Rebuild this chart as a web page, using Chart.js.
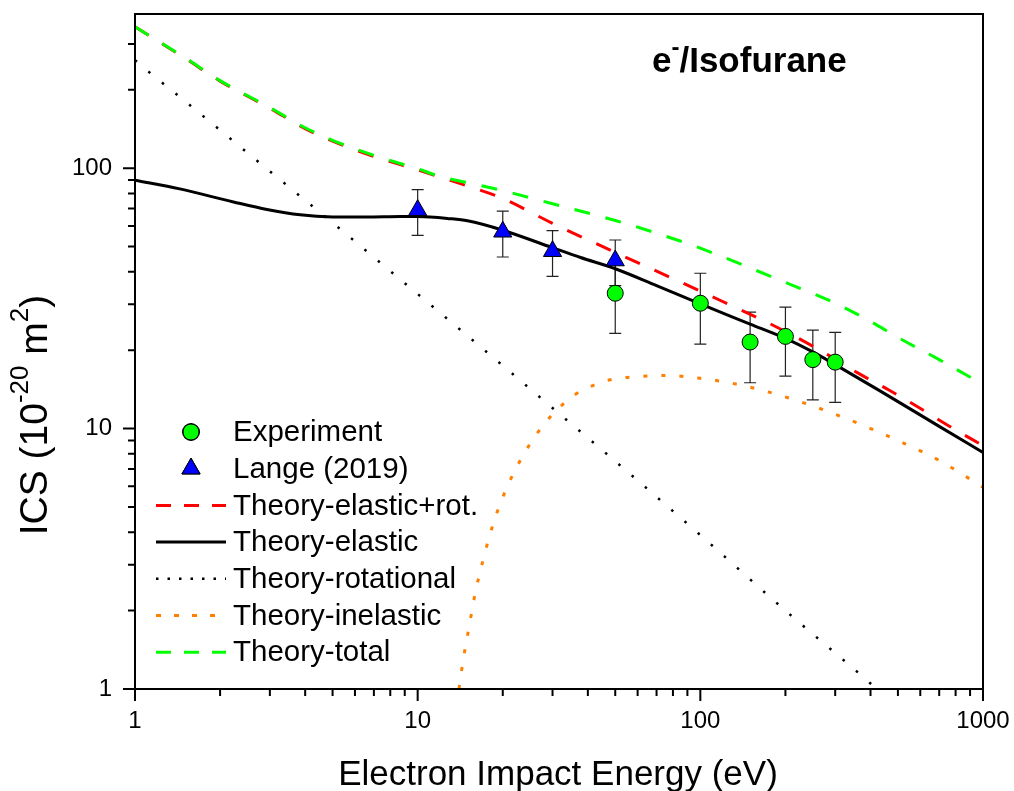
<!DOCTYPE html>
<html>
<head>
<meta charset="utf-8">
<script src="https://cdn.jsdelivr.net/npm/chart.js@4.4.0/dist/chart.umd.min.js"></script>
<style>
body { margin: 0; background: #fff; }
</style>
</head>
<body>
<canvas id="myChart" width="1014" height="791"></canvas>
<script>
var FONT = '"Liberation Sans", Arial, sans-serif';

// measured points
var expE = [50, 100, 150, 200, 250, 300];
var expICS = [33.1, 30.3, 21.5, 22.6, 18.4, 18.0];
var expErr = [9.9, 9.2, 6.5, 6.7, 5.5, 5.4];

var langeE = [10, 20, 30, 50];
var langeICS = [69, 57, 48, 44.2];
var langeErr = [13.8, 11.4, 9.6, 8.8];

// theory curves
var elRotE = [1, 1.5, 2, 3, 4, 5, 7, 10, 12, 15, 20, 30, 50, 100, 200, 285, 359, 463, 589, 750, 1000];
var elRot = [349, 265, 216, 170, 142, 127, 111, 98.5, 92.5, 85.5, 76.5, 61.4, 47.5, 33.7, 23.6, 19.1, 16.4, 14.1, 12.1, 10.3, 8.6];

var elasticE = [1, 1.44, 2.23, 2.93, 3.84, 5, 6.6, 8.7, 10, 13, 15, 20, 30, 37.7, 50, 70, 100, 150, 200, 250, 300, 435, 700, 1000];
var elastic = [90, 83.3, 74.2, 69.4, 66.2, 65.0, 64.9, 65.2, 65.2, 64.0, 62.8, 57.8, 49.5, 45.4, 41.1, 35.4, 30.1, 25.2, 22.2, 19.7, 17.6, 13.9, 10.2, 8.1];

var rotE = [1, 1.1, 1.54, 2.33, 3.56, 5.42, 8.26, 10.2, 19, 30, 49.4, 100, 200, 400, 600];
var rot = [260, 238, 177, 122, 83.5, 57.4, 39.1, 32.3, 18.3, 12.0, 7.58, 3.9, 2.0, 1.05, 0.7];

var inelE = [14, 14.5, 15, 15.5, 16, 17, 18, 19, 20, 22, 25, 28, 31, 36, 41.5, 48, 56, 75, 100, 135, 175, 235, 310, 400, 500, 700, 1000];
var inel = [1.0, 1.3, 1.6, 1.95, 2.35, 3.1, 3.9, 4.7, 5.45, 6.85, 8.75, 10.4, 11.75, 13.5, 14.6, 15.4, 15.75, 16.0, 15.6, 14.8, 13.8, 12.5, 11.2, 10.0, 9.0, 7.55, 5.95];

var totalE = [1, 1.5, 2, 3, 4, 5, 7, 10, 12, 15, 20, 30, 50, 70, 100, 200, 300, 400, 500, 700, 870, 1000];
var total = [349, 266, 217, 171, 143, 128, 112, 99.5, 93, 88, 82, 73, 63, 56.3, 49.3, 36.4, 30.3, 25.8, 22.4, 18.4, 16.1, 14.8];

var xTickLabels = ['1', '10', '100', '1000'];
var yTickLabels = ['1', '10', '100'];
var xMajor = [1, 10, 100, 1000];
var xMinor = [2, 3, 4, 5, 6, 7, 8, 9, 20, 30, 40, 50, 60, 70, 80, 90, 200, 300, 400, 500, 600, 700, 800, 900];
var yMajor = [1, 10, 100];
var yMinor = [2, 3, 4, 5, 6, 7, 8, 9, 20, 30, 40, 50, 60, 70, 80, 90, 200, 300];

function pts(xs, ys) {
    return xs.map(function (x, i) { return {x: x, y: ys[i]}; });
}

function isDecade(v) {
    var l = Math.log10(v);
    return Math.abs(l - Math.round(l)) < 1e-9;
}

// error bars under the markers
var errorBars = {
    id: 'errorBars',
    beforeDatasetsDraw: function (chart) {
        var ctx = chart.ctx, xs = chart.scales.x, ys = chart.scales.y;
        var sets = [[expE, expICS, expErr], [langeE, langeICS, langeErr]];
        ctx.save();
        ctx.strokeStyle = '#222';
        ctx.lineWidth = 1.2;
        sets.forEach(function (s) {
            s[0].forEach(function (e, i) {
                var px = xs.getPixelForValue(e);
                var top = ys.getPixelForValue(s[1][i] + s[2][i]);
                var bot = ys.getPixelForValue(s[1][i] - s[2][i]);
                ctx.beginPath();
                ctx.moveTo(px, top); ctx.lineTo(px, bot);
                ctx.moveTo(px - 6, top); ctx.lineTo(px + 6, top);
                ctx.moveTo(px - 6, bot); ctx.lineTo(px + 6, bot);
                ctx.stroke();
            });
        });
        ctx.restore();
    }
};

function drawSup(ctx, parts, x, y) {
    parts.forEach(function (p) {
        ctx.font = p[2] + ' ' + p[1] + 'px ' + FONT;
        ctx.fillText(p[0], x, y + p[3]);
        x += ctx.measureText(p[0]).width;
    });
}

function widthOf(ctx, parts) {
    var w = 0;
    parts.forEach(function (p) {
        ctx.font = p[2] + ' ' + p[1] + 'px ' + FONT;
        w += ctx.measureText(p[0]).width;
    });
    return w;
}

var decorations = {
    id: 'decorations',
    afterDraw: function (chart) {
        var ctx = chart.ctx, a = chart.chartArea, xs = chart.scales.x, ys = chart.scales.y;
        ctx.save();
        // frame
        ctx.strokeStyle = '#000';
        ctx.lineWidth = 2;
        ctx.strokeRect(a.left, a.top, a.right - a.left, a.bottom - a.top);
        // ticks
        ctx.beginPath();
        yMajor.forEach(function (v) { var p = ys.getPixelForValue(v); ctx.moveTo(a.left, p); ctx.lineTo(a.left - 12, p); });
        yMinor.forEach(function (v) { var p = ys.getPixelForValue(v); ctx.moveTo(a.left, p); ctx.lineTo(a.left - 7, p); });
        xMajor.forEach(function (v) { var p = xs.getPixelForValue(v); ctx.moveTo(p, a.bottom); ctx.lineTo(p, a.bottom + 12); });
        xMinor.forEach(function (v) { var p = xs.getPixelForValue(v); ctx.moveTo(p, a.bottom); ctx.lineTo(p, a.bottom + 7); });
        ctx.stroke();

        ctx.fillStyle = '#000';
        ctx.textBaseline = 'alphabetic';
        ctx.textAlign = 'left';

        // x title
        ctx.font = '35px ' + FONT;
        ctx.textAlign = 'center';
        ctx.fillText('Electron Impact Energy (eV)', 558, 785);
        ctx.textAlign = 'left';

        // y title
        var yParts = [['ICS (10', 39, '', 0], ['-20', 26, '', -19], [' m', 39, '', 0], ['2', 26, '', -19], [')', 39, '', 0]];
        ctx.save();
        ctx.translate(47, 415);
        ctx.rotate(-Math.PI / 2);
        drawSup(ctx, yParts, -widthOf(ctx, yParts) / 2, 0);
        ctx.restore();

        // panel title
        drawSup(ctx, [['e', 35, 'bold', 0], ['-', 24, 'bold', -17], ['/Isofurane', 35, 'bold', 0]], 652, 72);

        // legend
        var rows = [
            {label: 'Experiment', marker: 'circle', fill: '#00ff00'},
            {label: 'Lange (2019)', marker: 'triangle', fill: '#0000ff'},
            {label: 'Theory-elastic+rot.', color: '#ff0000', w: 3, dash: [15, 13]},
            {label: 'Theory-elastic', color: '#000', w: 3, dash: []},
            {label: 'Theory-rotational', color: '#000', w: 2.5, dash: [2.5, 9]},
            {label: 'Theory-inelastic', color: '#ff8000', w: 3, dash: [5, 13]},
            {label: 'Theory-total', color: '#00ff00', w: 3, dash: [15, 13]}
        ];
        rows.forEach(function (r, i) {
            var y = 432 + i * 36.7;
            if (r.marker) {
                Chart.helpers.drawPoint(ctx, {pointStyle: r.marker, radius: r.marker === 'circle' ? 8 : 10.5, borderWidth: 1}, 191, y);
                ctx.fillStyle = r.fill;
                ctx.strokeStyle = '#000';
                ctx.lineWidth = 1;
                ctx.fill();
                ctx.stroke();
            } else {
                ctx.beginPath();
                ctx.strokeStyle = r.color;
                ctx.lineWidth = r.w;
                ctx.setLineDash(r.dash);
                ctx.moveTo(156, y); ctx.lineTo(226, y);
                ctx.stroke();
                ctx.setLineDash([]);
            }
            ctx.fillStyle = '#000';
            ctx.font = '29.5px ' + FONT;
            ctx.textBaseline = 'middle';
            ctx.fillText(r.label, 233, y + 1);
            ctx.textBaseline = 'alphabetic';
        });
        ctx.restore();
    }
};

function curve(label, xs, ys, color, width, dash, order) {
    return {
        label: label,
        data: pts(xs, ys),
        borderColor: color,
        borderWidth: width,
        borderDash: dash,
        pointRadius: 0,
        fill: false,
        cubicInterpolationMode: 'monotone',
        order: order
    };
}

function noPad(s) {
    s.paddingLeft = 0;
    s.paddingRight = 0;
    s.paddingTop = 0;
    s.paddingBottom = 0;
}

var ctx = document.getElementById('myChart').getContext('2d');

var myChart = new Chart(ctx, {
    type: 'line',
    data: {
        datasets: [
            {
                label: 'Experiment',
                data: pts(expE, expICS),
                showLine: false,
                pointStyle: 'circle',
                pointRadius: 8,
                backgroundColor: '#00ff00',
                borderColor: '#000',
                borderWidth: 1,
                order: 0
            },
            {
                label: 'Lange (2019)',
                data: pts(langeE, langeICS),
                showLine: false,
                pointStyle: 'triangle',
                pointRadius: 10.5,
                backgroundColor: '#0000ff',
                borderColor: '#000',
                borderWidth: 1,
                order: 1
            },
            curve('Theory-elastic+rot.', elRotE, elRot, '#ff0000', 3, [16, 16], 3),
            curve('Theory-elastic', elasticE, elastic, '#000000', 3, [], 4),
            curve('Theory-rotational', rotE, rot, '#000000', 2.5, [2.5, 15], 5),
            curve('Theory-inelastic', inelE, inel, '#ff8000', 3, [4, 14], 6),
            curve('Theory-total', totalE, total, '#00ff00', 3, [16, 16], 2)
        ]
    },
    options: {
        responsive: false,
        devicePixelRatio: 1,
        animation: false,
        layout: {padding: {left: 0, right: 31, top: 14, bottom: 0}},
        plugins: {
            legend: {display: false},
            tooltip: {enabled: false}
        },
        scales: {
            x: {
                type: 'logarithmic',
                min: 1,
                max: 1000,
                grid: {display: false, drawTicks: false},
                border: {display: false},
                ticks: {
                    autoSkip: false,
                    maxRotation: 0,
                    padding: 18,
                    color: '#000',
                    font: {family: FONT, size: 24},
                    callback: function (v) { return isDecade(v) ? xTickLabels[Math.round(Math.log10(v))] : ''; }
                },
                afterFit: function (s) { s.height = 102; noPad(s); }
            },
            y: {
                type: 'logarithmic',
                min: 1,
                max: 391,
                grid: {display: false, drawTicks: false},
                border: {display: false},
                ticks: {
                    autoSkip: false,
                    padding: 23,
                    color: '#000',
                    font: {family: FONT, size: 24},
                    callback: function (v) { return isDecade(v) ? yTickLabels[Math.round(Math.log10(v))] : ''; }
                },
                afterFit: function (s) { s.width = 135; noPad(s); }
            }
        }
    },
    plugins: [errorBars, decorations]
});
</script>
</body>
</html>
